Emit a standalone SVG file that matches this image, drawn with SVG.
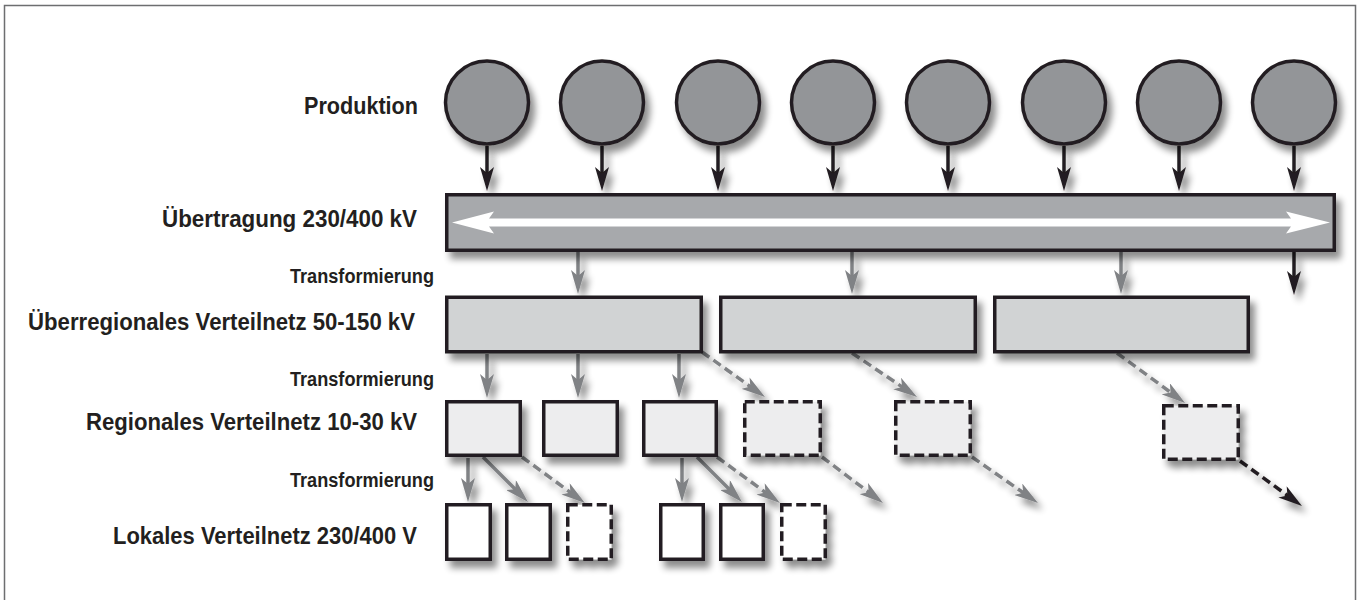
<svg xmlns="http://www.w3.org/2000/svg" width="1359" height="600" viewBox="0 0 1359 600">
<style>
.lbl{font-family:"Liberation Sans",Arial,sans-serif;font-weight:bold;font-size:24px;fill:#231f20}
.tr{font-family:"Liberation Sans",Arial,sans-serif;font-weight:bold;font-size:19.5px;fill:#231f20}
.prod{fill:#939598;stroke:#231f20;stroke-width:3.5}
.bar{fill:#a7a9ac;stroke:#231f20;stroke-width:3.5}
.l2{fill:#d1d3d4;stroke:#231f20;stroke-width:3.5}
.l3{fill:#ededee;stroke:#231f20;stroke-width:3.5}
.l4{fill:#ffffff;stroke:#231f20;stroke-width:3.5}
.dash{stroke-dasharray:10 4.5}
.cb{stroke:#231f20;stroke-width:3.5;fill:none;marker-end:url(#mk-black)}
.cg{stroke:#808285;stroke-width:3.5;fill:none;marker-end:url(#mk-gray)}
.cd{stroke-dasharray:9 5}
</style>
<defs>
<filter id="sh" filterUnits="userSpaceOnUse" x="0" y="0" width="1359" height="600">
<feGaussianBlur in="SourceAlpha" stdDeviation="3.5"/>
<feOffset dx="5" dy="7" result="o"/>
<feComponentTransfer><feFuncA type="linear" slope="0.45"/></feComponentTransfer>
<feMerge><feMergeNode/><feMergeNode in="SourceGraphic"/></feMerge>
</filter>
<marker id="mk-black" viewBox="0 0 24 14" refX="16" refY="7" markerWidth="24" markerHeight="14" markerUnits="userSpaceOnUse" orient="auto">
<path d="M0,0 L24,7 L0,14 L6,7 Z" fill="#231f20"/>
</marker>
<marker id="mk-gray" viewBox="0 0 24 14" refX="16" refY="7" markerWidth="24" markerHeight="14" markerUnits="userSpaceOnUse" orient="auto">
<path d="M0,0 L24,7 L0,14 L6,7 Z" fill="#808285"/>
</marker>
</defs>
<rect width="1359" height="600" fill="#ffffff"/>
<path d="M4.5,610 V5.5 H1355.5 V610" fill="none" stroke="#6d6e70" stroke-width="1.5"/>

<g id="labels">
<text class="lbl" x="418" y="114" text-anchor="end" textLength="114" lengthAdjust="spacingAndGlyphs">Produktion</text>
<text class="lbl" x="417" y="227" text-anchor="end" textLength="255" lengthAdjust="spacingAndGlyphs">Übertragung 230/400 kV</text>
<text class="tr" x="434" y="283" text-anchor="end" textLength="144" lengthAdjust="spacingAndGlyphs">Transformierung</text>
<text class="lbl" x="415" y="330" text-anchor="end" textLength="387" lengthAdjust="spacingAndGlyphs">Überregionales Verteilnetz 50-150 kV</text>
<text class="tr" x="434" y="386" text-anchor="end" textLength="144" lengthAdjust="spacingAndGlyphs">Transformierung</text>
<text class="lbl" x="417" y="430" text-anchor="end" textLength="331" lengthAdjust="spacingAndGlyphs">Regionales Verteilnetz 10-30 kV</text>
<text class="tr" x="434" y="487" text-anchor="end" textLength="144" lengthAdjust="spacingAndGlyphs">Transformierung</text>
<text class="lbl" x="417" y="544" text-anchor="end" textLength="304" lengthAdjust="spacingAndGlyphs">Lokales Verteilnetz 230/400 V</text>
</g>

<g id="connectors" filter="url(#sh)">
<line class="cb" x1="487" y1="146" x2="487" y2="183"/>
<line class="cb" x1="602" y1="146" x2="602" y2="183"/>
<line class="cb" x1="718" y1="146" x2="718" y2="183"/>
<line class="cb" x1="833" y1="146" x2="833" y2="183"/>
<line class="cb" x1="948" y1="146" x2="948" y2="183"/>
<line class="cb" x1="1064" y1="146" x2="1064" y2="183"/>
<line class="cb" x1="1179" y1="146" x2="1179" y2="183"/>
<line class="cb" x1="1294" y1="146" x2="1294" y2="183"/>
<line class="cb" x1="1294" y1="252" x2="1294" y2="287"/>
<line class="cg" x1="578" y1="252" x2="578" y2="286"/>
<line class="cg" x1="852" y1="252" x2="852" y2="286"/>
<line class="cg" x1="1121" y1="252" x2="1121" y2="286"/>
<line class="cg" x1="487" y1="354" x2="487" y2="390"/>
<line class="cg" x1="578" y1="354" x2="578" y2="390"/>
<line class="cg" x1="679" y1="354" x2="679" y2="390"/>
<line class="cg cd" x1="702" y1="352" x2="758.5" y2="392.4"/>
<line class="cg cd" x1="852" y1="353" x2="910.4" y2="392.5"/>
<line class="cg cd" x1="1117" y1="353" x2="1178.6" y2="398.3"/>
<line class="cg cd" x1="822" y1="457" x2="876.6" y2="498.2"/>
<line class="cg cd" x1="972" y1="457" x2="1031.4" y2="498.4"/>
<line class="cb cd" x1="1240" y1="461" x2="1295.5" y2="501.3"/>
<line class="cg" x1="468" y1="458" x2="468" y2="494"/>
<line class="cg" x1="483" y1="457" x2="522.3" y2="496.3"/>
<line class="cg cd" x1="522" y1="457" x2="578.5" y2="498.3"/>
<line class="cg" x1="682" y1="458" x2="682" y2="494"/>
<line class="cg" x1="697" y1="457" x2="736.3" y2="496.3"/>
<line class="cg cd" x1="717" y1="457" x2="773.5" y2="498.3"/>
</g>

<g id="produktion" filter="url(#sh)">
<g id="p1"><circle class="prod" cx="487" cy="102.5" r="41.5"/></g>
<g id="p2"><circle class="prod" cx="602" cy="102.5" r="41.5"/></g>
<g id="p3"><circle class="prod" cx="718" cy="102.5" r="41.5"/></g>
<g id="p4"><circle class="prod" cx="833" cy="102.5" r="41.5"/></g>
<g id="p5"><circle class="prod" cx="948" cy="102.5" r="41.5"/></g>
<g id="p6"><circle class="prod" cx="1064" cy="102.5" r="41.5"/></g>
<g id="p7"><circle class="prod" cx="1179" cy="102.5" r="41.5"/></g>
<g id="p8"><circle class="prod" cx="1294" cy="102.5" r="41.5"/></g>
</g>

<g id="uebertragung" filter="url(#sh)">
<rect class="bar" x="446.75" y="194.75" width="887.5" height="55.5"/>
<path d="M452,222.5 L494,211.5 L489,218.5 L1291,218.5 L1286,211.5 L1330,222.5 L1286,233.5 L1291,226.5 L489,226.5 L494,233.5 Z" fill="#ffffff"/>
</g>

<g id="ueberregional" filter="url(#sh)">
<g id="u1"><rect class="l2" x="446.75" y="297.25" width="254.5" height="54.5"/></g>
<g id="u2"><rect class="l2" x="720.75" y="297.25" width="254.5" height="54.5"/></g>
<g id="u3"><rect class="l2" x="994.75" y="297.25" width="253.5" height="54.5"/></g>
</g>

<g id="regional" filter="url(#sh)">
<g id="r1"><rect class="l3" x="446.75" y="401.75" width="73.5" height="53.5"/></g>
<g id="r2"><rect class="l3" x="543.75" y="401.75" width="73.5" height="53.5"/></g>
<g id="r3"><rect class="l3" x="643.75" y="401.75" width="72.5" height="53.5"/></g>
<g id="r4"><rect class="l3 dash" x="744.75" y="401.75" width="75.5" height="53.5"/></g>
<g id="r5"><rect class="l3 dash" x="895.75" y="401.75" width="74.5" height="53.5"/></g>
<g id="r6"><rect class="l3 dash" x="1163.75" y="405.75" width="74.5" height="53.5"/></g>
</g>

<g id="lokal" filter="url(#sh)">
<g id="k1"><rect class="l4" x="446.75" y="504.75" width="43.5" height="54.5"/></g>
<g id="k2"><rect class="l4" x="506.75" y="504.75" width="43.5" height="54.5"/></g>
<g id="k3"><rect class="l4 dash" x="567.75" y="504.75" width="43.5" height="54.5"/></g>
<g id="k4"><rect class="l4" x="660.75" y="504.75" width="42.5" height="54.5"/></g>
<g id="k5"><rect class="l4" x="720.75" y="504.75" width="42.5" height="54.5"/></g>
<g id="k6"><rect class="l4 dash" x="781.75" y="504.75" width="43.5" height="54.5"/></g>
</g>
</svg>
